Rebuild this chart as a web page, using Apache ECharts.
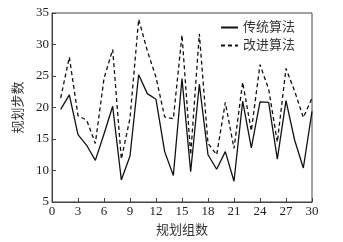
<!DOCTYPE html>
<html>
<head>
<meta charset="utf-8">
<script src="https://cdn.jsdelivr.net/npm/echarts@6/dist/echarts.min.js"></script>
<style>
	html, body { margin: 0; padding: 0; background: #fff; }
	#chart { width: 343px; height: 242px; }
</style>
</head>
<body>
<div id="chart"></div>
<script>
	// 规划组数 1..30
	var groups = [1, 2, 3, 4, 5, 6, 7, 8, 9, 10, 11, 12, 13, 14, 15, 16, 17, 18, 19, 20, 21, 22, 23, 24, 25, 26, 27, 28, 29, 30];
	var traditional = [19.7, 22, 15.7, 14, 11.6, 15.8, 20.2, 8.5, 12.3, 25.2, 22.2, 21.3, 13, 9.2, 24.6, 9.8, 23.7, 12.5, 10.2, 13, 8.3, 21, 13.6, 20.9, 20.8, 11.8, 21.1, 14.8, 10.4, 19.4];
	var improved = [21.5, 28, 18.7, 18, 14.3, 24.6, 29.2, 11.8, 18.3, 34, 29, 24.8, 18.5, 18.2, 31.5, 12.5, 31.7, 14.3, 12.5, 20.8, 13.5, 24, 16.3, 26.8, 22.9, 14.5, 26.2, 22.6, 18.4, 21.5];
	var seriesNames = ['传统算法', '改进算法'];

	var serif = '"Liberation Serif", "Noto Sans CJK SC", serif';
	var myChart = echarts.init(document.getElementById('chart'));

	function pairs(vals) {
		var out = [];
		for (var i = 0; i < groups.length; i++) {
			out.push([groups[i], vals[i]]);
		}
		return out;
	}

	var option = {
		animation: false,
		grid: {
			left: 52,
			right: 31,
			top: 13,
			bottom: 40,
			show: true,
			borderColor: '#444',
			borderWidth: 1
		},
		legend: {
			orient: 'vertical',
			right: 43,
			top: 16,
			itemWidth: 17,
			itemHeight: 10,
			itemGap: 5,
			itemStyle: { opacity: 0 },
			textStyle: { fontFamily: serif, fontSize: 13, color: '#333' },
			data: seriesNames
		},
		xAxis: {
			type: 'value',
			min: 0,
			max: 30,
			interval: 3,
			name: '规划组数',
			nameLocation: 'middle',
			nameGap: 22,
			nameTextStyle: { fontFamily: serif, fontSize: 13, color: '#333' },
			axisLine: { lineStyle: { color: '#444' } },
			axisTick: { inside: true, length: 4, lineStyle: { color: '#444' } },
			axisLabel: { fontFamily: serif, fontSize: 13, color: '#222', margin: 3 },
			splitLine: { show: false }
		},
		yAxis: {
			type: 'value',
			min: 5,
			max: 35,
			interval: 5,
			name: '规划步数',
			nameLocation: 'middle',
			nameGap: 23,
			nameTextStyle: { fontFamily: serif, fontSize: 13, color: '#333' },
			axisLine: { lineStyle: { color: '#444' } },
			axisTick: { inside: true, length: 4, lineStyle: { color: '#444' } },
			axisLabel: { fontFamily: serif, fontSize: 13, color: '#222', margin: 3 },
			splitLine: { show: false }
		},
		series: [{
			name: seriesNames[0],
			type: 'line',
			symbol: 'none',
			lineStyle: { color: '#111', width: 1.3, type: 'solid' },
			itemStyle: { color: '#111' },
			data: pairs(traditional)
		}, {
			name: seriesNames[1],
			type: 'line',
			symbol: 'none',
			lineStyle: { color: '#111', width: 1.3, type: [4, 3] },
			itemStyle: { color: '#111' },
			data: pairs(improved)
		}]
	};
	myChart.setOption(option);
</script>
</body>
</html>
